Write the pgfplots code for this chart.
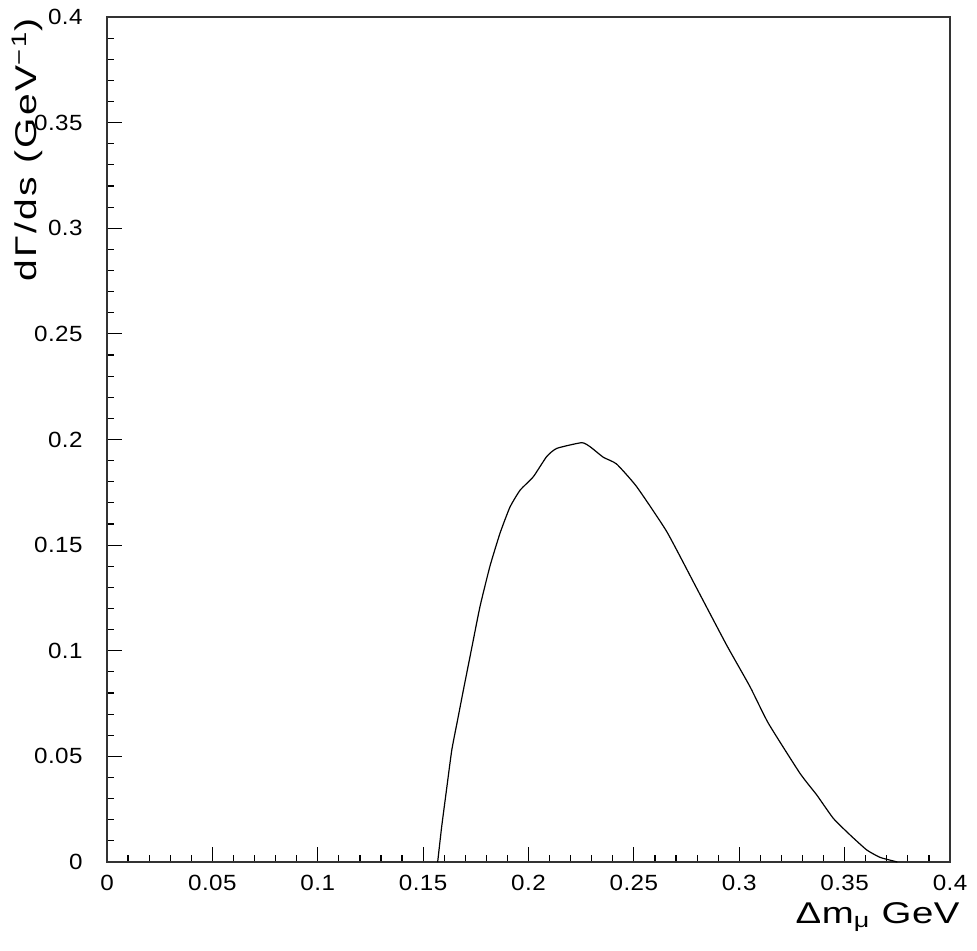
\documentclass[border=0pt]{standalone}
\usepackage{fontspec}
\setmainfont{Liberation Sans}
\newfontfamily\labelfont{Liberation Sans}[FakeStretch=1.28, LetterSpace=2.0]
\newfontfamily\ylabelfont{Liberation Sans}[FakeStretch=1.3, LetterSpace=8.0]
\newfontfamily\tickfont{Liberation Sans}[FakeStretch=1.1, LetterSpace=2.0]
\usepackage{pgfplots}
\pgfplotsset{compat=1.18}
\begin{document}
\begin{tikzpicture}
\useasboundingbox (-53.5pt,-44pt) rectangle (435pt,431pt);
\begin{axis}[
  at={(0,0)}, anchor=origin,
  scale only axis,
  width=421.5pt, height=422.5pt,
  xmin=0, xmax=0.4, ymin=0, ymax=0.4,
  xtick={0,0.05,...,0.4}, ytick={0,0.05,...,0.4},
  minor tick num=4,
  tick align=inside,
  xtick pos=bottom, ytick pos=left,
  major tick length=7.5pt, minor tick length=3.5pt,
  tick style={black, line width=0.6pt},
  axis line style={line width=0.8pt, black!80},
  scaled ticks=false,
  /pgf/number format/assume math mode=true,
  /pgf/number format/fixed,
  /pgf/number format/precision=2,
  ticklabel style={font=\tickfont\fontsize{11}{13}\selectfont},
  xticklabel style={anchor=north, inner sep=0pt, yshift=-6.5pt},
  yticklabel style={anchor=east, inner sep=0pt, xshift=-12pt},
  clip=false,
]
\addplot[black, line width=0.6pt, smooth, tension=0.3] coordinates {
(0.1569,0) (0.1588,0.0167) (0.1612,0.035) (0.1636,0.053) (0.1665,0.068)
(0.1691,0.0814) (0.173,0.101) (0.177,0.121) (0.1817,0.140) (0.1865,0.1557)
(0.1912,0.168) (0.196,0.176) (0.2023,0.1824) (0.2086,0.1919) (0.2134,0.1958)
(0.2252,0.1985) (0.2292,0.1966) (0.2355,0.1916) (0.2418,0.1884) (0.2513,0.1777)
(0.2656,0.1564) (0.2798,0.1296) (0.294,0.1027) (0.3051,0.083) (0.3138,0.0657)
(0.3288,0.042) (0.3368,0.0317) (0.3446,0.0207) (0.3526,0.0128) (0.3605,0.0057)
(0.3668,0.0022) (0.3731,0.0005) (0.375,0)
};
\node[xshift=5pt, yshift=-30.5pt, anchor=base east, inner sep=0pt, font=\labelfont\fontsize{15}{17}\selectfont]
  at (axis description cs:1,0) {Δm\textsubscript{μ} GeV};
\node[xshift=-35pt, yshift=-0.5pt, rotate=90, anchor=base east, inner sep=0pt, font=\ylabelfont\fontsize{15}{17}\selectfont]
  at (axis description cs:0,1) {dΓ/ds (GeV\textsuperscript{−1})};
\end{axis}
\end{tikzpicture}
\end{document}
